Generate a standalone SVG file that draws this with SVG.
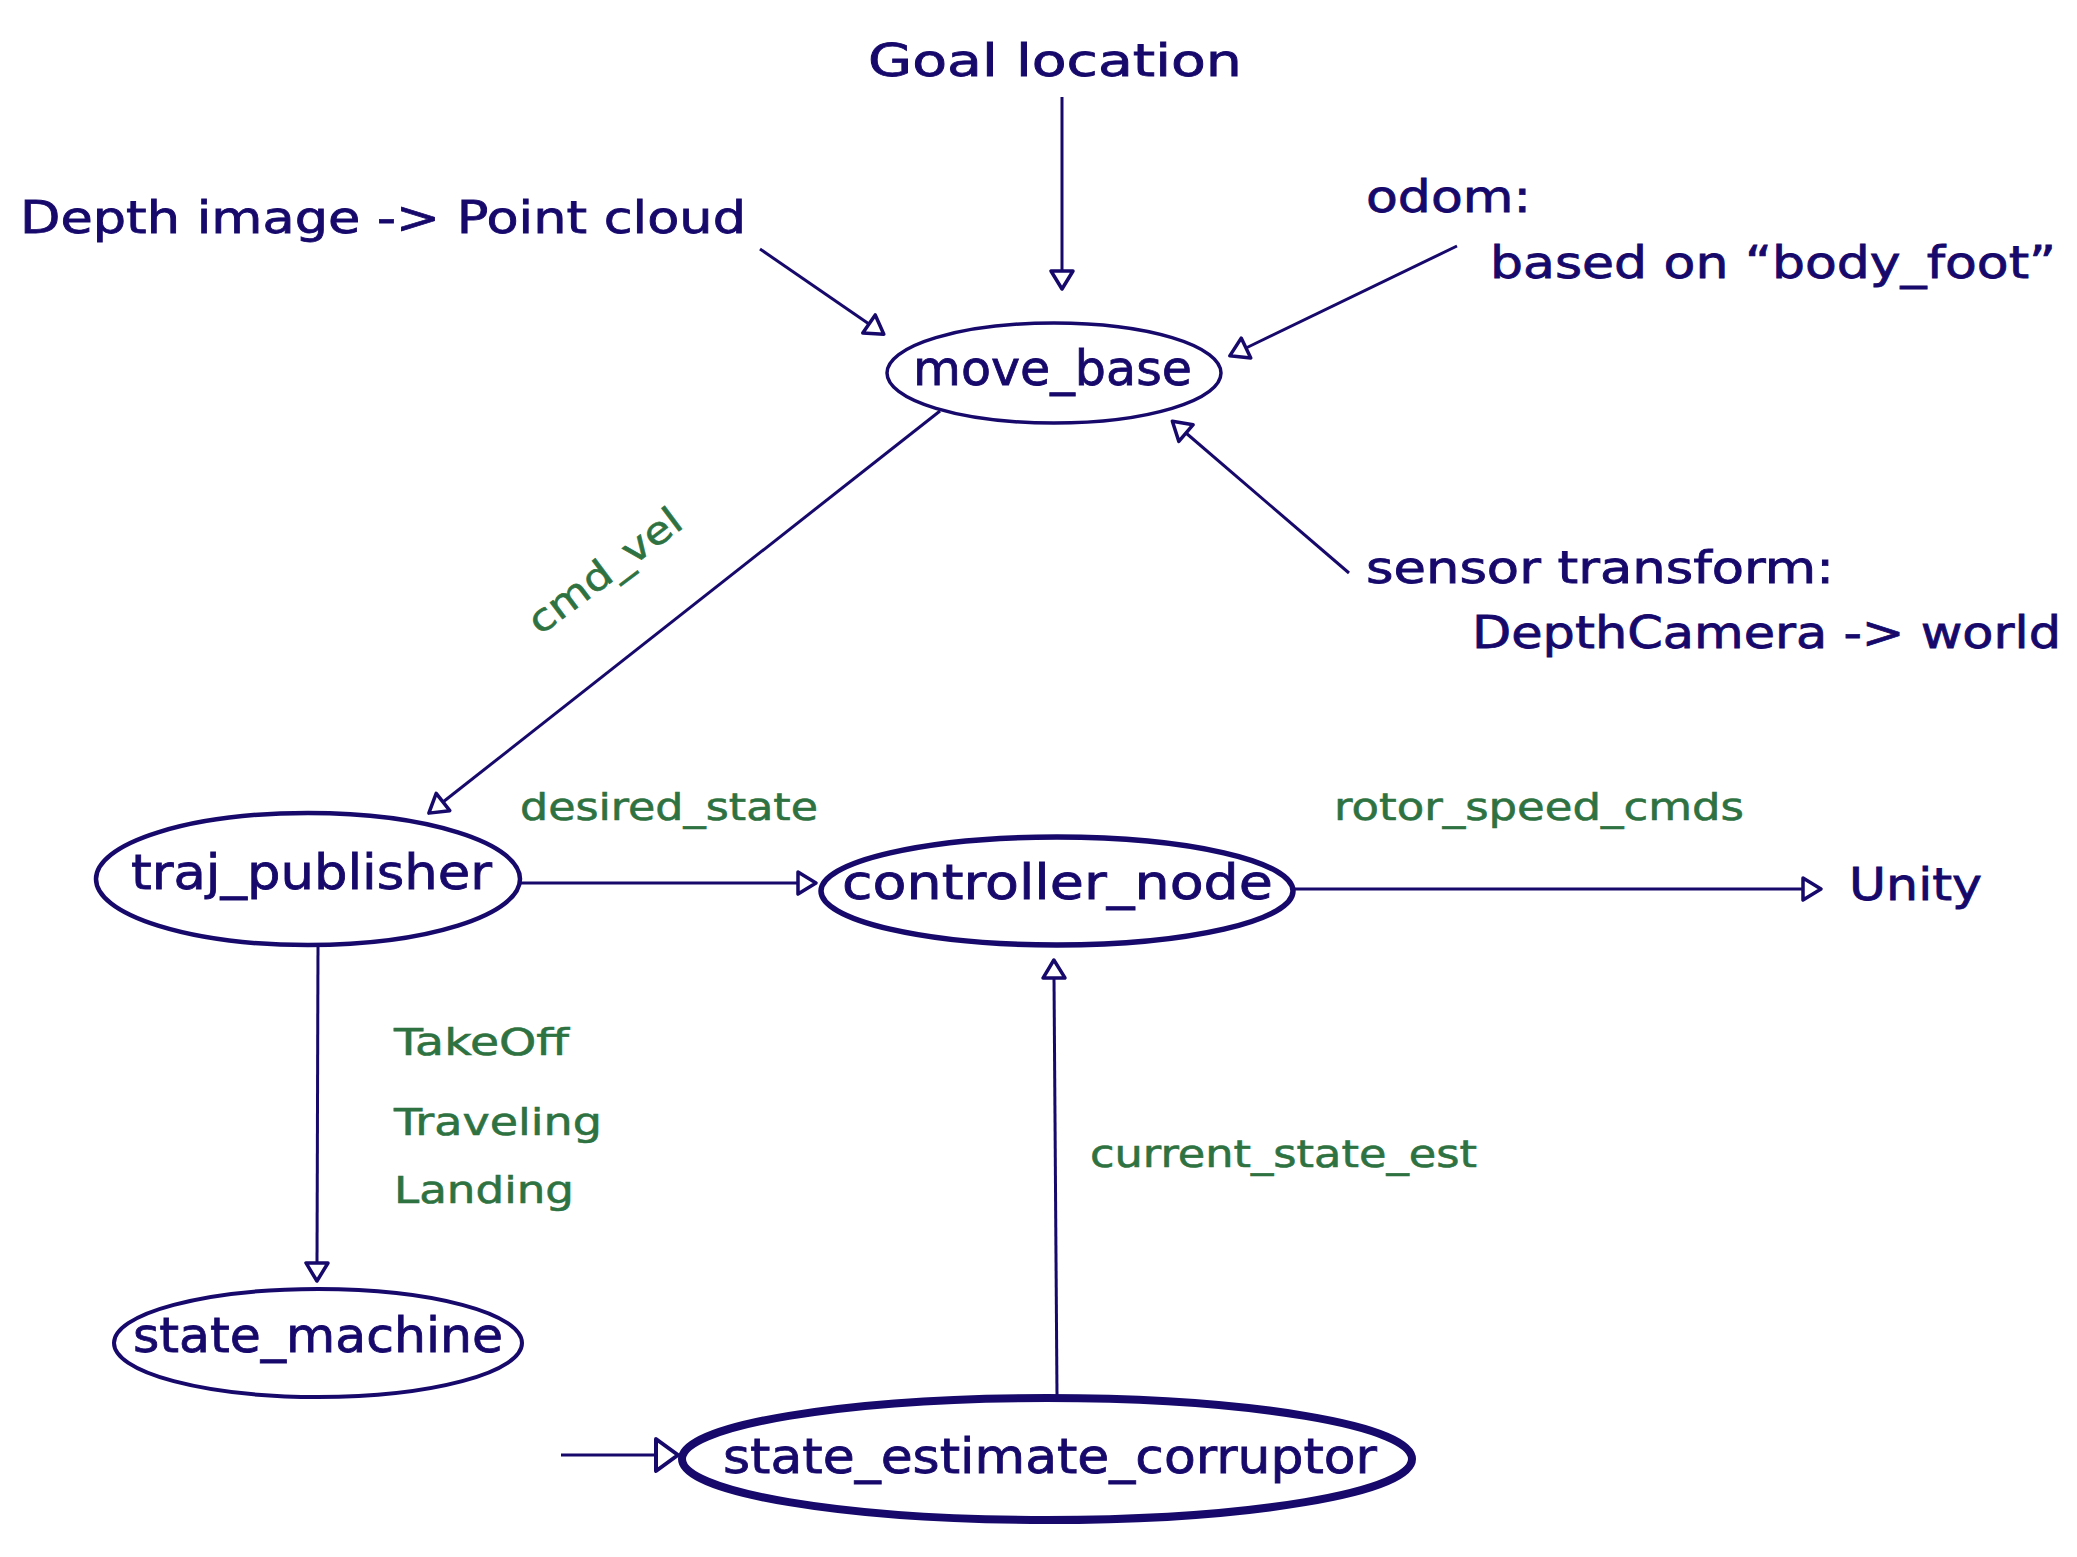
<svg xmlns="http://www.w3.org/2000/svg" width="2077" height="1557" viewBox="0 0 2077 1557">
<style>
.t{font-family:"DejaVu Sans","Liberation Sans",sans-serif;fill:#16096b;stroke:#16096b;stroke-width:0.8px;font-size:44px}
.n{font-family:"DejaVu Sans","Liberation Sans",sans-serif;fill:#16096b;stroke:#16096b;stroke-width:0.8px;font-size:48px}
.g{font-family:"DejaVu Sans","Liberation Sans",sans-serif;fill:#2e7241;stroke:#2e7241;stroke-width:0.6px;font-size:38px}
.e{fill:#fff;stroke:#16096b}
.c{fill:none;stroke:#16096b;stroke-width:3}
</style>
<defs>
<marker id="ah" markerUnits="userSpaceOnUse" viewBox="-4 -15 26 30" markerWidth="26" markerHeight="30" refX="0" refY="0" orient="auto">
<path d="M0,-11 L18,0 L0,11 Z" fill="#fff" stroke="#16096b" stroke-width="3.5" stroke-linejoin="round"/>
</marker>
<marker id="ahL" markerUnits="userSpaceOnUse" viewBox="-4 -20 30 40" markerWidth="30" markerHeight="40" refX="0" refY="0" orient="auto">
<path d="M0,-16 L22,0 L0,16 Z" fill="#fff" stroke="#16096b" stroke-width="4" stroke-linejoin="round"/>
</marker>
</defs>
<rect width="2077" height="1557" fill="#fff"/>
<g id="connectors">
<line class="c" x1="1062" y1="97" x2="1062" y2="271" marker-end="url(#ah)"/>
<line class="c" x1="760" y1="249" x2="869" y2="324" marker-end="url(#ah)"/>
<line class="c" x1="1457" y1="246" x2="1246" y2="348" marker-end="url(#ah)"/>
<line class="c" x1="1349" y1="573" x2="1186" y2="433" marker-end="url(#ah)"/>
<line class="c" x1="940" y1="411" x2="443" y2="802" marker-end="url(#ah)"/>
<line class="c" x1="521" y1="883" x2="798" y2="883" marker-end="url(#ah)"/>
<line class="c" x1="1294" y1="889" x2="1803" y2="889" marker-end="url(#ah)"/>
<line class="c" x1="318" y1="946" x2="317" y2="1263" marker-end="url(#ah)"/>
<line class="c" x1="1057" y1="1396" x2="1054" y2="978" marker-end="url(#ah)"/>
<line class="c" x1="561" y1="1455" x2="656" y2="1455" stroke-width="4" marker-end="url(#ahL)"/>
<text class="g" transform="translate(540,636) rotate(-37)" x="0" y="0" textLength="182" lengthAdjust="spacingAndGlyphs">cmd_vel</text>
<text class="g" x="520" y="820" textLength="298" lengthAdjust="spacingAndGlyphs">desired_state</text>
<text class="g" x="1334" y="820" textLength="410" lengthAdjust="spacingAndGlyphs">rotor_speed_cmds</text>
<text class="g" x="394" y="1055" font-size="40" textLength="175" lengthAdjust="spacingAndGlyphs">TakeOff</text>
<text class="g" x="394" y="1135" font-size="40" textLength="208" lengthAdjust="spacingAndGlyphs">Traveling</text>
<text class="g" x="394" y="1203" font-size="40" textLength="180" lengthAdjust="spacingAndGlyphs">Landing</text>
<text class="g" x="1090" y="1167" textLength="387" lengthAdjust="spacingAndGlyphs">current_state_est</text>
</g>
<g id="goal_location"><text class="t" x="868" y="76" textLength="374" lengthAdjust="spacingAndGlyphs">Goal location</text></g>
<g id="point_cloud"><text class="t" x="20" y="233" textLength="726" lengthAdjust="spacingAndGlyphs">Depth image -&gt; Point cloud</text></g>
<g id="odom">
<text class="t" x="1366" y="212" textLength="165" lengthAdjust="spacingAndGlyphs">odom:</text>
<text class="t" x="1490" y="278" textLength="566" lengthAdjust="spacingAndGlyphs">based on “body_foot”</text>
</g>
<g id="sensor_transform">
<text class="t" x="1366" y="583" textLength="468" lengthAdjust="spacingAndGlyphs">sensor transform:</text>
<text class="t" x="1472" y="648" textLength="589" lengthAdjust="spacingAndGlyphs">DepthCamera -&gt; world</text>
</g>
<g id="unity"><text class="t" x="1849" y="900" font-size="46" textLength="133" lengthAdjust="spacingAndGlyphs">Unity</text></g>
<g id="move_base">
<ellipse class="e" cx="1054" cy="373" rx="167" ry="50" stroke-width="3.5"/>
<text class="n" x="913" y="385" textLength="279" lengthAdjust="spacingAndGlyphs">move_base</text>
</g>
<g id="traj_publisher">
<ellipse class="e" cx="308" cy="879" rx="212" ry="66" stroke-width="4.5"/>
<text class="n" x="131" y="889" font-size="50" textLength="361" lengthAdjust="spacingAndGlyphs">traj_publisher</text>
</g>
<g id="controller_node">
<ellipse class="e" cx="1057" cy="891" rx="236" ry="54" stroke-width="5.5"/>
<text class="n" x="842" y="899" textLength="431" lengthAdjust="spacingAndGlyphs">controller_node</text>
</g>
<g id="state_machine">
<ellipse class="e" cx="318" cy="1343" rx="204" ry="54" stroke-width="4"/>
<text class="n" x="133" y="1352" textLength="370" lengthAdjust="spacingAndGlyphs">state_machine</text>
</g>
<g id="state_estimate_corruptor">
<ellipse class="e" cx="1047" cy="1459" rx="365" ry="61" stroke-width="8"/>
<text class="n" x="723" y="1473" textLength="654" lengthAdjust="spacingAndGlyphs">state_estimate_corruptor</text>
</g>
</svg>
